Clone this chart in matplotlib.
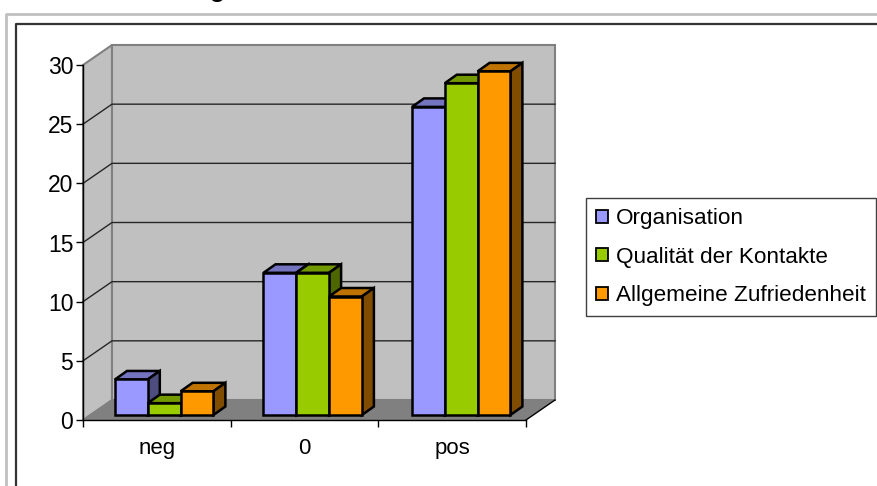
import matplotlib
matplotlib.use('Agg')
import matplotlib.pyplot as plt
from matplotlib.patches import Polygon, Patch

categories = ['neg', '0', 'pos']
series_names = ['Organisation', 'Qualität der Kontakte', 'Allgemeine Zufriedenheit']
organisation = [3, 12, 26]
qualitaet = [1, 12, 28]
zufriedenheit = [2, 10, 29]
yticks = [0, 5, 10, 15, 20, 25, 30]

front_cols = ['#9999FF', '#99CC00', '#FF9900']
top_cols = ['#7373BF', '#739900', '#BF7300']
side_cols = ['#4D4D80', '#4D6600', '#804D00']

plt.rcParams['font.family'] = ['Liberation Sans', 'DejaVu Sans']

W, H = 878, 486
fig = plt.figure(figsize=(W / 100, H / 100), dpi=100)

# plain pixel layer for the outer frames
bg = fig.add_axes([0, 0, 1, 1])
bg.set_xlim(0, W)
bg.set_ylim(H, 0)
bg.axis('off')
bg.plot([6, 6, W], [H, 14, 14], color='#C0C0C0', lw=2, solid_capstyle='butt')
bg.plot([16, 16, W], [H, 24, 24], color='#333333', lw=1.6, solid_capstyle='butt')
bg.text(217, -5, 'g', fontsize=22, ha='center', va='baseline', color='black', clip_on=True)

# axes = front plane of the 3d box
ax = fig.add_axes([83 / W, (H - 420) / H, 443 / W, 355 / H])
ax.set_xlim(0, 3)
ax.set_ylim(0, 30)
ax.patch.set_visible(False)

px = 3 / 443
py = 30 / 355
dx = 29 * px
dy = 20 * py


def poly(pts, fc, ec='none', lw=1.0, z=1):
    ax.add_patch(Polygon(pts, closed=True, facecolor=fc, edgecolor=ec, lw=lw,
                         zorder=z, clip_on=False, joinstyle='miter'))


# walls and floor
poly([(0, 0), (dx, dy), (dx, 30 + dy), (0, 30)], '#C0C0C0', '#808080', 1.5)
poly([(dx, dy), (3 + dx, dy), (3 + dx, 30 + dy), (dx, 30 + dy)], '#C0C0C0', '#808080', 1.5)
poly([(0, 0), (3, 0), (3 + dx, dy), (dx, dy)], '#808080', z=1.2)
ax.plot([3, 3 + dx], [0, dy], color='black', lw=1, zorder=1.3, clip_on=False)

for v in yticks[1:-1]:
    ax.plot([0, dx, 3 + dx], [v, v + dy, v + dy], color='#262626', lw=1, zorder=1.5, clip_on=False)

# bars
bar_w = 32.8 * px
start = 32 * px
step = 148.5 * px
base = 5 * py
bdx = 12 * px
bdy = 8.5 * py
values = [organisation, qualitaet, zufriedenheit]
z = 2
for c in range(len(categories)):
    for s in range(len(values)):
        x0 = c * step + start + s * bar_w
        x1 = x0 + bar_w
        y0 = base
        y1 = base + values[s][c] * 11.85 * py
        poly([(x0, y1), (x1, y1), (x1 + bdx, y1 + bdy), (x0 + bdx, y1 + bdy)], top_cols[s], 'black', 1.8, z)
        poly([(x1, y0), (x1 + bdx, y0 + bdy), (x1 + bdx, y1 + bdy), (x1, y1)], side_cols[s], 'black', 1.8, z)
        poly([(x0, y0), (x1, y0), (x1, y1), (x0, y1)], front_cols[s], 'black', 1.8, z + 0.1)
        z += 0.2

# axes lines and ticks
for k in ['top', 'right']:
    ax.spines[k].set_visible(False)
for k in ['left', 'bottom']:
    ax.spines[k].set_linewidth(1)
    ax.spines[k].set_zorder(50)
ax.set_yticks(yticks)
ax.set_xticks(range(len(categories) + 1))
ax.set_xticklabels([])
ax.set_xticks([i + 0.5 for i in range(len(categories))], minor=True)
ax.set_xticklabels(categories, minor=True)
ax.tick_params(axis='y', length=5, width=1, pad=2, labelsize=16.5)
ax.tick_params(axis='x', which='major', length=5, width=1)
ax.tick_params(axis='x', which='minor', length=0, pad=13, labelsize=16)

handles = [Patch(facecolor=col, edgecolor='black', lw=1.3) for col in front_cols]
leg = fig.legend(handles, series_names, loc='upper left',
                 bbox_to_anchor=(586 / W, 1 - 198 / H), fontsize=16.2,
                 fancybox=False, framealpha=1, edgecolor='#404040',
                 handlelength=0.52, handleheight=0.52, handletextpad=0.38,
                 labelspacing=0.78, borderpad=0.45, borderaxespad=0)
leg.get_frame().set_linewidth(1)

fig.savefig('out.png', dpi=100)
